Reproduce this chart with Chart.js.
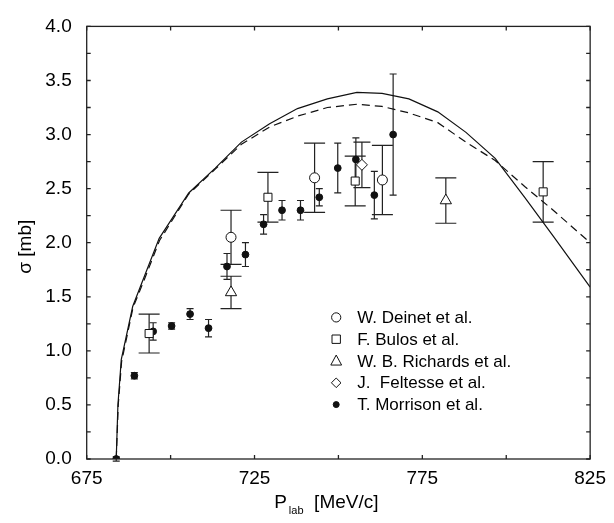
<!DOCTYPE html>
<html>
<head>
<meta charset="utf-8">
<script src="https://cdn.jsdelivr.net/npm/chart.js@4/dist/chart.umd.min.js"></script>
<style>
  html, body { margin: 0; padding: 0; background: #fff; }
  #wrap { width: 614px; height: 523px; }
</style>
</head>
<body>
<div id="wrap"><canvas id="c" width="614" height="523"></canvas></div>
<script>
// ---- axis ticks ----
const xMajorTicks = [675, 725, 775, 825];
const xMinorTicks = [675, 700, 725, 750, 775, 800, 825];
const yMajorTicks = [0.0, 0.5, 1.0, 1.5, 2.0, 2.5, 3.0, 3.5, 4.0];
const yMinorTicks = [0, 0.25, 0.5, 0.75, 1.0, 1.25, 1.5, 1.75, 2.0, 2.25, 2.5, 2.75, 3.0, 3.25, 3.5, 3.75, 4.0];

// ---- theory curves ----
const solidP = [683.8, 684.3, 685.3, 688.7, 691.7, 696.6, 705.4, 713.3, 721.1, 729.5, 737.8, 746.7, 755.5, 763.0, 771.0, 779.6, 788.0, 796.7, 805.5, 814.0, 825.0];
const solidS = [0.00, 0.50, 0.92, 1.41, 1.65, 2.04, 2.46, 2.69, 2.93, 3.10, 3.24, 3.33, 3.39, 3.38, 3.33, 3.21, 3.02, 2.78, 2.42, 2.06, 1.59];
const dashP  = [683.8, 684.4, 685.4, 688.8, 691.8, 696.7, 705.4, 713.3, 721.1, 729.5, 737.8, 746.7, 755.5, 763.0, 771.0, 779.6, 788.0, 796.7, 805.5, 814.0, 825.0];
const dashS  = [0.00, 0.50, 0.90, 1.40, 1.63, 2.02, 2.45, 2.68, 2.91, 3.07, 3.17, 3.25, 3.28, 3.26, 3.20, 3.11, 2.93, 2.76, 2.52, 2.30, 2.00];

// ---- measurements ----
const deinetP = [718.0, 742.9, 763.1];
const deinetS = [2.05, 2.60, 2.58];
const deinetE = [0.25, 0.32, 0.32];

const bulosP = [693.6, 729.0, 755.0, 811.0];
const bulosS = [1.16, 2.42, 2.57, 2.47];
const bulosE = [0.18, 0.23, 0.23, 0.28];

const richardsP = [718.0, 782.0];
const richardsS = [1.54, 2.39];
const richardsE = [0.15, 0.21];

const feltesseP = [757.0];
const feltesseS = [2.72];
const feltesseE = [0.21];

const morrisonP = [683.8, 689.2, 694.8, 700.3, 705.8, 711.3, 716.8, 722.3, 727.7, 733.2, 738.7, 744.3, 749.8, 755.2, 760.7, 766.3];
const morrisonS = [0.00, 0.77, 1.18, 1.23, 1.34, 1.21, 1.78, 1.89, 2.17, 2.30, 2.30, 2.42, 2.69, 2.77, 2.44, 3.00];
const morrisonE = [0.02, 0.03, 0.08, 0.03, 0.05, 0.08, 0.12, 0.11, 0.09, 0.09, 0.09, 0.08, 0.23, 0.20, 0.22, 0.56];

const legendLabels = ['W. Deinet et al.', 'F. Bulos et al.', 'W. B. Richards et al.', 'J.  Feltesse et al.', 'T. Morrison et al.'];

const FONT = '"Liberation Sans", Arial, Helvetica, sans-serif';
const INK = '#111';

const pts = (xs, ys) => xs.map((x, i) => ({ x: x, y: ys[i] }));

function markerSet(label, xs, ys, errs, style, radius, fill, cap) {
  return {
    label: label,
    data: pts(xs, ys),
    errors: errs,
    capHalf: cap,
    showLine: false,
    pointStyle: style,
    pointRadius: radius,
    pointBackgroundColor: fill,
    pointBorderColor: INK,
    pointBorderWidth: 1,
    order: 1
  };
}

const datasets = [
  {
    label: 'theory',
    data: pts(solidP, solidS),
    showLine: true, pointRadius: 0, borderColor: INK, borderWidth: 1.2,
    tension: 0, order: 10
  },
  {
    label: 'theory (dashed)',
    data: pts(dashP, dashS),
    showLine: true, pointRadius: 0, borderColor: INK, borderWidth: 1.2,
    borderDash: [8, 5], tension: 0, order: 10
  },
  markerSet(legendLabels[0], deinetP, deinetS, deinetE, 'circle', 5, '#fff', 10.5),
  markerSet(legendLabels[1], bulosP, bulosS, bulosE, 'rect', 5.7, '#fff', 10.5),
  markerSet(legendLabels[2], richardsP, richardsS, richardsE, 'triangle', 6.5, '#fff', 10.5),
  markerSet(legendLabels[3], feltesseP, feltesseS, feltesseE, 'rectRot', 5.5, '#fff', 8.5),
  markerSet(legendLabels[4], morrisonP, morrisonS, morrisonE, 'circle', 3.4, INK, 3.5)
];

// vertical error bars with caps, drawn beneath the markers
const errorBars = {
  id: 'errorBars',
  beforeDatasetsDraw(chart) {
    const ctx = chart.ctx;
    const xs = chart.scales.x, ys = chart.scales.y;
    ctx.save();
    ctx.strokeStyle = '#222';
    ctx.lineWidth = 1.2;
    chart.data.datasets.forEach(ds => {
      if (!ds.errors) return;
      ds.data.forEach((p, i) => {
        const e = ds.errors[i];
        if (!e) return;
        const px = xs.getPixelForValue(p.x);
        const yTop = ys.getPixelForValue(p.y + e);
        const yBot = ys.getPixelForValue(p.y - e);
        const h = ds.capHalf;
        ctx.beginPath();
        ctx.moveTo(px, yTop); ctx.lineTo(px, yBot);
        ctx.moveTo(px - h, yTop); ctx.lineTo(px + h, yTop);
        ctx.moveTo(px - h, yBot); ctx.lineTo(px + h, yBot);
        ctx.stroke();
      });
    });
    ctx.restore();
  }
};

function drawMarker(ctx, style, x, y, r, fill) {
  ctx.beginPath();
  if (style === 'circle') {
    ctx.arc(x, y, r, 0, Math.PI * 2);
  } else if (style === 'rect') {
    ctx.rect(x - r, y - r, 2 * r, 2 * r);
  } else if (style === 'triangle') {
    ctx.moveTo(x, y - r * 1.1);
    ctx.lineTo(x + r, y + r * 0.75);
    ctx.lineTo(x - r, y + r * 0.75);
    ctx.closePath();
  } else if (style === 'rectRot') {
    ctx.moveTo(x, y - r); ctx.lineTo(x + r, y); ctx.lineTo(x, y + r); ctx.lineTo(x - r, y);
    ctx.closePath();
  }
  ctx.fillStyle = fill;
  ctx.fill();
  ctx.lineWidth = 1;
  ctx.strokeStyle = INK;
  ctx.stroke();
}

// frame, inward ticks, legend and axis titles
const decorations = {
  id: 'decorations',
  afterDraw(chart) {
    const ctx = chart.ctx;
    const a = chart.chartArea;
    const xs = chart.scales.x, ys = chart.scales.y;
    const L = 4;
    ctx.save();
    ctx.strokeStyle = '#222';
    ctx.lineWidth = 1.3;
    ctx.strokeRect(a.left, a.top, a.right - a.left, a.bottom - a.top);
    ctx.beginPath();
    xMinorTicks.forEach(v => {
      const px = xs.getPixelForValue(v);
      ctx.moveTo(px, a.bottom); ctx.lineTo(px, a.bottom - L);
      ctx.moveTo(px, a.top); ctx.lineTo(px, a.top + L);
    });
    yMinorTicks.forEach(v => {
      const py = ys.getPixelForValue(v);
      ctx.moveTo(a.left, py); ctx.lineTo(a.left + L, py);
      ctx.moveTo(a.right, py); ctx.lineTo(a.right - L, py);
    });
    ctx.stroke();

    // legend
    const styles = [
      ['circle', 4.6, '#fff'], ['rect', 4.2, '#fff'], ['triangle', 5.4, '#fff'],
      ['rectRot', 4.8, '#fff'], ['circle', 3.0, INK]
    ];
    const lx = a.left + 249.5, tx = a.left + 270.5, ly0 = a.top + 291, dy = 21.8;
    ctx.font = '17px ' + FONT;
    ctx.textBaseline = 'middle';
    ctx.textAlign = 'left';
    legendLabels.forEach((t, i) => {
      const y = ly0 + i * dy;
      drawMarker(ctx, styles[i][0], lx, y, styles[i][1], styles[i][2]);
      ctx.fillStyle = '#000';
      ctx.fillText(t, tx, y + 1);
    });

    // x title: P_lab [MeV/c]
    ctx.fillStyle = '#000';
    ctx.textBaseline = 'alphabetic';
    ctx.font = '19px ' + FONT;
    let x = a.left + 187.5;
    const by = a.bottom + 48.5;
    ctx.fillText('P', x, by);
    x += ctx.measureText('P').width + 2;
    ctx.font = '11px ' + FONT;
    ctx.fillText('lab', x, by + 6);
    x += ctx.measureText('lab').width;
    ctx.font = '19px ' + FONT;
    ctx.fillText('  [MeV/c]', x, by);

    // y title
    ctx.save();
    ctx.translate(31, (a.top + a.bottom) / 2 + 4);
    ctx.rotate(-Math.PI / 2);
    ctx.textAlign = 'center';
    ctx.font = '19px ' + FONT;
    ctx.fillText('σ [mb]', 0, 0);
    ctx.restore();

    ctx.restore();
  }
};

new Chart(document.getElementById('c'), {
  type: 'scatter',
  data: { datasets: datasets },
  options: {
    responsive: false,
    animation: false,
    devicePixelRatio: 1,
    layout: { padding: { left: 0, right: 18, top: 14, bottom: 0 } },
    plugins: { legend: { display: false }, tooltip: { enabled: false } },
    scales: {
      x: {
        type: 'linear', min: 675, max: 825,
        afterBuildTicks: s => { s.ticks = xMajorTicks.map(v => ({ value: v })); },
        afterFit: s => { s.height = 64; },
        grid: { display: false, drawTicks: false },
        border: { display: false },
        ticks: {
          padding: 8, color: '#000', maxRotation: 0,
          font: { family: FONT, size: 19 },
          callback: v => String(v)
        }
      },
      y: {
        type: 'linear', min: 0, max: 4,
        afterBuildTicks: s => { s.ticks = yMajorTicks.map(v => ({ value: v })); },
        afterFit: s => { s.width = 86.7; },
        grid: { display: false, drawTicks: false },
        border: { display: false },
        ticks: {
          padding: 15, color: '#000',
          font: { family: FONT, size: 19 },
          callback: v => Number(v).toFixed(1)
        }
      }
    }
  },
  plugins: [errorBars, decorations]
});
</script>
</body>
</html>
